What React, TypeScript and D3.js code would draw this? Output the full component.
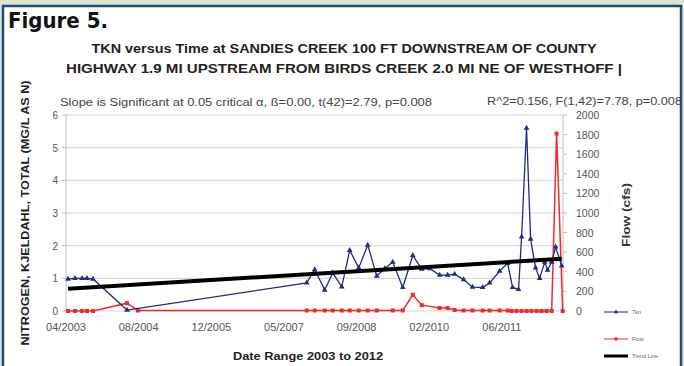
import React from "react";
import * as d3 from "d3";

// ---------- data ----------
const tknDates = ["2003-04-15","2003-06-02","2003-07-20","2003-08-23","2003-10-04","2004-05-25",
  "2007-10-14","2007-12-08","2008-02-15","2008-04-10","2008-06-11","2008-08-05","2008-10-06","2008-12-07","2009-02-07","2009-04-03",
  "2009-05-28","2009-08-05","2009-10-13","2009-12-14","2010-02-06","2010-04-16","2010-06-10","2010-07-28","2010-09-28","2010-11-28",
  "2011-02-06","2011-03-26","2011-06-03","2011-07-28","2011-08-31","2011-10-11","2011-11-01","2011-12-05","2012-01-02","2012-02-05",
  "2012-03-04","2012-04-08","2012-04-28","2012-05-26","2012-06-22","2012-08-03"];
const tknValues = [0.98,1.0,1.0,1.0,0.98,0.03,
  0.86,1.27,0.64,1.17,0.74,1.86,1.32,2.02,1.07,1.3,
  1.5,0.72,1.7,1.28,1.3,1.1,1.1,1.13,0.96,0.73,
  0.72,0.86,1.22,1.46,0.72,0.66,2.27,5.6,2.2,1.32,
  1.0,1.5,1.25,1.5,1.96,1.38];

const flowDates = ["2003-04-15","2003-06-02","2003-07-20","2003-08-23","2003-10-04","2004-05-25","2004-08-08",
  "2007-10-14","2007-12-08","2008-02-15","2008-04-10","2008-06-11","2008-08-05","2008-10-06","2008-12-07","2009-02-07",
  "2009-05-28","2009-08-05","2009-10-13","2009-12-14","2010-04-16","2010-06-10","2010-07-28","2010-09-28","2010-11-28",
  "2011-02-06","2011-03-26","2011-06-03","2011-07-28","2011-08-24","2011-09-27","2011-11-01","2011-12-05","2012-01-08",
  "2012-02-12","2012-03-17","2012-04-21","2012-05-26","2012-06-29","2012-08-10"];
const flowValues = [0,0,0,0,0,80,5,
  5,5,5,5,5,5,5,5,5,
  5,5,165,60,30,30,10,5,5,
  5,5,5,5,0,0,0,0,0,
  0,0,0,0,1810,0];

const trendDates = ["2003-04-15","2012-08-03"];
const trendValues = [0.68,1.6];

const tknTicks = [0,1,2,3,4,5,6];
const flowTicks = [0,200,400,600,800,1000,1200,1400,1600,1800,2000];
const axisStart = "2003-04-01";
const axisEnd = "2012-08-12";
const tickStepDays = 500;
const tickCount = 7;

const legendItems = ["Tkn","Flow","Trend Line"];

const titleLine1 = "TKN versus Time at SANDIES CREEK 100 FT DOWNSTREAM OF COUNTY";
const titleLine2 = "HIGHWAY 1.9 MI UPSTREAM FROM BIRDS CREEK 2.0 MI NE OF WESTHOFF |";
const statLeft = "Slope is Significant at 0.05 critical \u03b1, \u00df=0.00, t(42)=2.79, p=0.008";
const statRight = "R^2=0.156, F(1,42)=7.78, p=0.008";

// ---------- component ----------
const W = 684, H = 366;
const M = { left: 66, right: 563, top: 115, bottom: 311 };
const FONT = "'Liberation Sans', Arial, Helvetica, sans-serif";
const BLUE = "#232a85";
const RED = "#ee2b2b";

export default function App() {
  const parse = d3.timeParse("%Y-%m-%d");
  const start = parse(axisStart)!;
  const x = d3.scaleTime().domain([start, parse(axisEnd)!]).range([M.left, M.right]);
  const yL = d3.scaleLinear().domain([0, 6]).range([M.bottom, M.top]);
  const yR = d3.scaleLinear().domain([0, 2000]).range([M.bottom, M.top]);
  const xTicks = d3.range(tickCount).map((i) => d3.timeDay.offset(start, i * tickStepDays));
  const fmt = d3.timeFormat("%m/%Y");

  const tkn = tknDates.map((d, i) => ({ x: x(parse(d)!), y: yL(tknValues[i]) }));
  const flow = flowDates.map((d, i) => ({ x: x(parse(d)!), y: yR(flowValues[i]) }));
  const trend = trendDates.map((d, i) => ({ x: x(parse(d)!), y: yL(trendValues[i]) }));
  const line = d3.line<{ x: number; y: number }>().x((d) => d.x).y((d) => d.y);
  const tri = d3.symbol(d3.symbolTriangle, 14)()!;
  const sq = d3.symbol(d3.symbolSquare, 16)()!;

  const legY = [312, 339, 356];

  return (
    <svg width={W} height={H} style={{ position: "absolute", left: 0, top: 0 }} fontFamily={FONT}>
      <rect x={0} y={0} width={W} height={H} fill="#dde3ce" />
      <rect x={3} y={6} width={678} height={H} fill="#ffffff" stroke="#1d4b7b" strokeWidth={2.5} />

      <text x={8} y={28} fontSize={22} fontWeight="bold" fill="#111"
        fontFamily="'Liberation Sans Narrow', 'DejaVu Sans Condensed', 'Arial Narrow', sans-serif"
        textLength={100} lengthAdjust="spacingAndGlyphs">Figure 5.</text>

      <text x={344} y={53} fontSize={13} fontWeight="bold" fill="#222" textAnchor="middle"
        textLength={505} lengthAdjust="spacingAndGlyphs">{titleLine1}</text>
      <text x={344} y={73} fontSize={13} fontWeight="bold" fill="#222" textAnchor="middle"
        textLength={556} lengthAdjust="spacingAndGlyphs">{titleLine2}</text>

      <text x={60} y={106} fontSize={10} fill="#444" textLength={372} lengthAdjust="spacingAndGlyphs">{statLeft}</text>
      <text x={487} y={105} fontSize={10} fill="#444" textLength={195} lengthAdjust="spacingAndGlyphs">{statRight}</text>

      {/* grid */}
      {tknTicks.map((t) => (
        <line key={"g" + t} x1={M.left} x2={M.right} y1={yL(t)} y2={yL(t)} stroke="#d4d4d4" strokeWidth={1} />
      ))}
      <line x1={M.left} x2={M.left} y1={M.top} y2={M.bottom} stroke="#bdbdbd" />
      <line x1={M.right} x2={M.right} y1={M.top} y2={M.bottom} stroke="#bdbdbd" />
      {tknTicks.map((t) => (
        <g key={"l" + t}>
          <line x1={M.left - 4} x2={M.left} y1={yL(t)} y2={yL(t)} stroke="#bdbdbd" />
          <text x={58} y={yL(t) + 4} fontSize={10} fill="#555" textAnchor="end">{t}</text>
        </g>
      ))}
      {flowTicks.map((t) => (
        <g key={"r" + t}>
          <line x1={M.right} x2={M.right + 4} y1={yR(t)} y2={yR(t)} stroke="#bdbdbd" />
          <text x={576} y={yR(t) + 4} fontSize={10.5} fill="#555">{t}</text>
        </g>
      ))}
      {xTicks.map((t, i) => (
        <text key={"x" + i} x={x(t)} y={331} fontSize={11} fill="#555" textAnchor="middle">{fmt(t)}</text>
      ))}

      {/* series */}
      <path d={line(flow)!} fill="none" stroke={RED} strokeWidth={1.5} />
      {flow.map((p, i) => (
        <path key={"f" + i} d={sq} transform={`translate(${p.x},${p.y})`} fill={RED} />
      ))}
      <path d={line(tkn)!} fill="none" stroke={BLUE} strokeWidth={1.3} />
      {tkn.map((p, i) => (
        <path key={"t" + i} d={tri} transform={`translate(${p.x},${p.y})`} fill={BLUE} />
      ))}
      <path d={line(trend)!} fill="none" stroke="#000" strokeWidth={4} />

      {/* axis titles */}
      <text transform="translate(29,213) rotate(-90)" fontSize={10.5} fontWeight="bold" fill="#222"
        textAnchor="middle" textLength={265} lengthAdjust="spacingAndGlyphs">NITROGEN, KJELDAHL, TOTAL (MG/L AS N)</text>
      <text transform="translate(630,215) rotate(-90)" fontSize={11} fontWeight="bold" fill="#333"
        textAnchor="middle" textLength={64} lengthAdjust="spacingAndGlyphs">Flow (cfs)</text>
      <text x={308} y={360} fontSize={11} fontWeight="bold" fill="#222" textAnchor="middle"
        textLength={150} lengthAdjust="spacingAndGlyphs">Date Range 2003 to 2012</text>

      {/* legend */}
      {legendItems.map((name, i) => (
        <g key={"lg" + i}>
          <line x1={604} x2={628} y1={legY[i]} y2={legY[i]}
            stroke={i === 0 ? BLUE : i === 1 ? RED : "#000"} strokeWidth={i === 2 ? 3 : 1} />
          {i === 0 && <path d={d3.symbol(d3.symbolTriangle, 8)()!} transform={`translate(616,${legY[i]})`} fill={BLUE} />}
          {i === 1 && <path d={d3.symbol(d3.symbolSquare, 9)()!} transform={`translate(616,${legY[i]})`} fill={RED} />}
          <text x={632} y={legY[i] + 2} fontSize={5.5} fill="#666">{name}</text>
        </g>
      ))}
    </svg>
  );
}
